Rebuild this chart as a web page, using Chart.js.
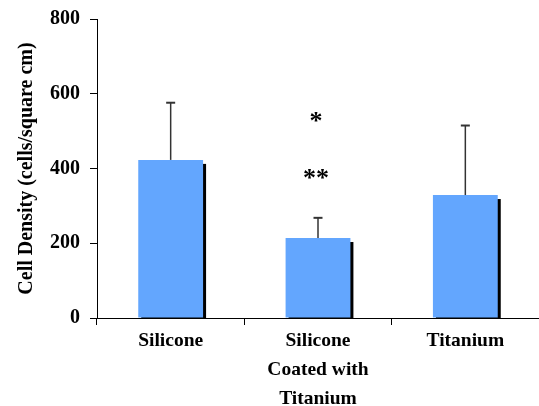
<!DOCTYPE html>
<html>
<head>
<meta charset="utf-8">
<script src="https://cdn.jsdelivr.net/npm/chart.js@4"></script>
<style>
  html, body { margin: 0; padding: 0; background: #fff; }
  #wrap { width: 539px; height: 406px; }
</style>
</head>
<body>
<div id="wrap"><canvas id="myCanvas"></canvas></div>
<script>
// data
var categories = [['Silicone'], ['Silicone', 'Coated with', 'Titanium'], ['Titanium']];
var density = [423, 214, 329];      // bar heights
var densityErr = [153, 54, 186];    // upper error bar length
var yTicks = [0, 200, 400, 600, 800];
// significance marks above the middle bar
var starText = ['*', '**'];
var starValue = [530, 377];
var starIndex = 1;

var serif = "'Liberation Serif', 'Times New Roman', serif";

// black drop shadow to the right of every bar
var shadowPlugin = {
  id: 'shadow',
  beforeDatasetsDraw: function(chart) {
    var ctx = chart.ctx;
    var base = chart.scales.y.getPixelForValue(0);
    ctx.save();
    ctx.fillStyle = '#000';
    chart.getDatasetMeta(0).data.forEach(function(bar) {
      var w = bar.width;
      ctx.fillRect(bar.x - w / 2 + 3, bar.y + 4, w, base - bar.y - 4);
    });
    ctx.restore();
  }
};

// upper error bars and the asterisks
var errorPlugin = {
  id: 'errors',
  afterDatasetsDraw: function(chart) {
    var ctx = chart.ctx;
    var y = chart.scales.y;
    ctx.save();
    ctx.strokeStyle = '#333';
    chart.getDatasetMeta(0).data.forEach(function(bar, i) {
      var top = y.getPixelForValue(density[i] + densityErr[i]);
      ctx.lineWidth = 1.5;
      ctx.beginPath();
      ctx.moveTo(bar.x, bar.y);
      ctx.lineTo(bar.x, top);
      ctx.stroke();
      ctx.lineWidth = 2;
      ctx.beginPath();
      ctx.moveTo(bar.x - 4.5, top);
      ctx.lineTo(bar.x + 4.5, top);
      ctx.stroke();
    });
    var cx = chart.scales.x.getPixelForValue(starIndex) - 2;
    ctx.fillStyle = '#000';
    ctx.font = 'bold 26px ' + serif;
    ctx.textAlign = 'center';
    ctx.textBaseline = 'middle';
    for (var k = 0; k < starText.length; k++) {
      ctx.fillText(starText[k], cx, y.getPixelForValue(starValue[k]) + 2);
    }
    ctx.restore();
  }
};

var ctx = document.getElementById('myCanvas').getContext('2d');
var myChart = new Chart(ctx, {
  type: 'bar',
  data: {
    labels: categories,
    datasets: [{
      data: density,
      backgroundColor: '#63a6fe',
      borderWidth: 0,
      barPercentage: 0.44,
      categoryPercentage: 1
    }]
  },
  options: {
    responsive: true,
    maintainAspectRatio: false,
    animation: false,
    layout: { padding: { top: 19, right: 0, bottom: 0, left: 0 } },
    plugins: {
      legend: { display: false },
      tooltip: { enabled: false }
    },
    scales: {
      x: {
        grid: { display: true, drawOnChartArea: false, drawTicks: true, tickLength: 7, color: '#000', offset: true },
        border: { display: true, color: '#000', width: 1 },
        ticks: {
          color: '#000',
          padding: 1,
          maxRotation: 0,
          autoSkip: false,
          font: { family: serif, size: 19.5, weight: 'bold', lineHeight: 1.5 }
        },
        afterFit: function(scale) { scale.height = 88; }
      },
      y: {
        min: 0,
        max: 800,
        afterBuildTicks: function(scale) {
          scale.ticks = yTicks.map(function(v) { return { value: v }; });
        },
        grid: { display: true, drawOnChartArea: false, drawTicks: true, tickLength: 7, color: '#000' },
        border: { display: true, color: '#000', width: 1 },
        ticks: {
          color: '#000',
          padding: 10,
          font: { family: serif, size: 20, weight: 'bold', lineHeight: 0.8 }
        },
        title: {
          display: true,
          text: 'Cell Density (cells/square cm)',
          color: '#000',
          padding: { top: 15, bottom: 0 },
          font: { family: serif, size: 20, weight: 'bold', lineHeight: 1.2 }
        },
        afterFit: function(scale) { scale.width = 97; }
      }
    }
  },
  plugins: [shadowPlugin, errorPlugin]
});
</script>
</body>
</html>
